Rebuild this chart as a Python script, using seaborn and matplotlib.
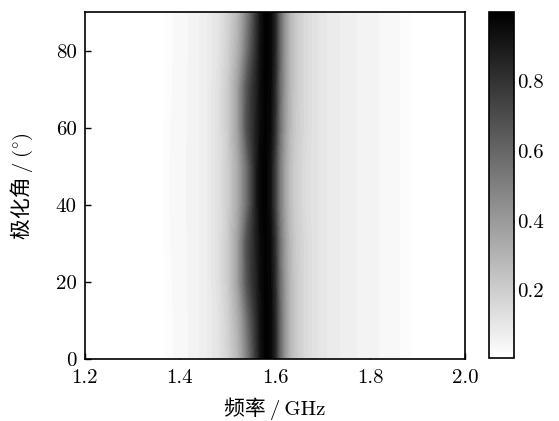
import numpy as np
import matplotlib
matplotlib.use("Agg")
import matplotlib.pyplot as plt
import seaborn as sns
from matplotlib.colors import Normalize
from matplotlib.cm import ScalarMappable

# ---- data ----
freq = [1.20, 1.36, 1.375, 1.40, 1.43, 1.46, 1.48, 1.50, 1.52, 1.53, 1.54, 1.55, 1.56,
        1.57, 1.58, 1.59, 1.60, 1.61, 1.62, 1.63, 1.64, 1.66, 1.68, 1.70, 1.73, 1.76,
        1.80, 1.84, 1.88, 1.895, 2.00]
angle = [0, 10, 20, 30, 40, 50, 60, 70, 80, 90]

a_0 = [0, 0, 0.02, 0.035, 0.05, 0.08, 0.11, 0.17, 0.27, 0.36, 0.48, 0.62, 0.78,
       0.93, 0.99, 0.98, 0.85, 0.60, 0.42, 0.30, 0.23, 0.16, 0.12, 0.10, 0.08, 0.065,
       0.05, 0.035, 0.02, 0, 0]
a_10 = [0, 0, 0.02, 0.035, 0.05, 0.08, 0.11, 0.18, 0.30, 0.40, 0.54, 0.68, 0.81,
        0.94, 0.99, 0.98, 0.85, 0.60, 0.42, 0.30, 0.23, 0.16, 0.12, 0.10, 0.08, 0.065,
        0.05, 0.035, 0.02, 0, 0]
a_20 = [0, 0, 0.022, 0.036, 0.05, 0.08, 0.12, 0.20, 0.36, 0.50, 0.66, 0.77, 0.86,
        0.95, 0.99, 0.97, 0.83, 0.58, 0.41, 0.30, 0.23, 0.16, 0.12, 0.10, 0.08, 0.065,
        0.05, 0.035, 0.02, 0, 0]
a_30 = [0, 0, 0.024, 0.037, 0.05, 0.08, 0.12, 0.20, 0.36, 0.50, 0.68, 0.78, 0.87,
        0.96, 0.99, 0.96, 0.81, 0.56, 0.40, 0.29, 0.22, 0.16, 0.12, 0.10, 0.08, 0.065,
        0.05, 0.035, 0.02, 0, 0]
a_40 = [0, 0, 0.025, 0.038, 0.05, 0.08, 0.12, 0.19, 0.32, 0.43, 0.56, 0.72, 0.88,
        0.98, 0.99, 0.93, 0.75, 0.52, 0.37, 0.27, 0.21, 0.15, 0.12, 0.10, 0.08, 0.065,
        0.05, 0.035, 0.02, 0, 0]
a_50 = [0, 0, 0.025, 0.038, 0.05, 0.08, 0.12, 0.19, 0.32, 0.43, 0.56, 0.72, 0.88,
        0.98, 0.99, 0.93, 0.75, 0.52, 0.37, 0.27, 0.21, 0.15, 0.12, 0.10, 0.08, 0.065,
        0.05, 0.035, 0.02, 0, 0]
a_60 = [0, 0, 0.024, 0.037, 0.05, 0.08, 0.12, 0.20, 0.36, 0.50, 0.68, 0.78, 0.87,
        0.96, 0.99, 0.96, 0.81, 0.56, 0.40, 0.29, 0.22, 0.16, 0.12, 0.10, 0.08, 0.065,
        0.05, 0.035, 0.02, 0, 0]
a_70 = [0, 0, 0.022, 0.036, 0.05, 0.08, 0.12, 0.20, 0.36, 0.50, 0.66, 0.77, 0.86,
        0.95, 0.99, 0.97, 0.83, 0.58, 0.41, 0.30, 0.23, 0.16, 0.12, 0.10, 0.08, 0.065,
        0.05, 0.035, 0.02, 0, 0]
a_80 = [0, 0, 0.02, 0.035, 0.05, 0.08, 0.11, 0.18, 0.30, 0.40, 0.54, 0.68, 0.81,
        0.94, 0.99, 0.98, 0.85, 0.60, 0.42, 0.30, 0.23, 0.16, 0.12, 0.10, 0.08, 0.065,
        0.05, 0.035, 0.02, 0, 0]
a_90 = [0, 0, 0.02, 0.035, 0.05, 0.08, 0.11, 0.17, 0.27, 0.36, 0.48, 0.62, 0.78,
        0.93, 0.99, 0.98, 0.85, 0.60, 0.42, 0.30, 0.23, 0.16, 0.12, 0.10, 0.08, 0.065,
        0.05, 0.035, 0.02, 0, 0]

absorb = np.array([a_0, a_10, a_20, a_30, a_40, a_50, a_60, a_70, a_80, a_90])

x_ticks = [1.2, 1.4, 1.6, 1.8, 2.0]
x_ticklabels = ["1.2", "1.4", "1.6", "1.8", "2.0"]
y_ticks = [0, 20, 40, 60, 80]
y_ticklabels = ["0", "20", "40", "60", "80"]
cb_ticks = [0.2, 0.4, 0.6, 0.8]
cb_ticklabels = ["0.2", "0.4", "0.6", "0.8"]
x_label = "频率\u2009/\u2009GHz"
y_label_main = "极化角\u2009/\u2009"
y_label_unit = "$(^{\\circ})$"

# ---- style ----
sns.set_theme(style="white")
plt.rcParams["font.family"] = ["cmr10", "Noto Sans CJK SC", "DejaVu Sans"]
plt.rcParams["mathtext.fontset"] = "cm"
plt.rcParams["axes.unicode_minus"] = False

fig = plt.figure(figsize=(5.59, 4.21), dpi=100)
ax = fig.add_axes([0.152, 0.147, 0.680, 0.8245])
cax = fig.add_axes([0.875, 0.150, 0.045, 0.8215])

cmap = plt.get_cmap("gray_r")
norm = Normalize(vmin=0.005, vmax=1.0)
levels = np.linspace(0.01, 1.0, 60)
F, A = np.meshgrid(freq, angle)
ax.contourf(F, A, absorb, levels=levels, cmap=cmap, norm=norm)

ax.set_xlim(1.2, 2.0)
ax.set_ylim(0, 90)
ax.set_xticks(x_ticks)
ax.set_xticklabels(x_ticklabels)
ax.set_yticks(y_ticks)
ax.set_yticklabels(y_ticklabels)
ax.tick_params(direction="in", length=4, width=1, labelsize=15, color="black",
               labelcolor="black", bottom=True, left=True, top=False, right=False)
ax.tick_params(axis="x", pad=7)
ax.tick_params(axis="y", pad=6)
for s in ax.spines.values():
    s.set_color("black")
    s.set_linewidth(1.2)

ax.set_xlabel(x_label, fontsize=15, color="black", labelpad=8)

cb = fig.colorbar(ScalarMappable(norm=norm, cmap=cmap), cax=cax)
cb.set_ticks(cb_ticks)
cb.set_ticklabels(cb_ticklabels)
cax.tick_params(direction="in", length=4, width=1, labelsize=15, color="black",
                labelcolor="black", right=True, left=False, pad=2)
cb.outline.set_linewidth(1.2)
cb.outline.set_edgecolor("black")

# y label composed of CJK text and a math unit, stacked vertically
fig.canvas.draw()
r = fig.canvas.get_renderer()
t1 = fig.text(0, 0, y_label_main, rotation=90, fontsize=15, color="black",
              ha="center", va="bottom")
t2 = fig.text(0, 0, y_label_unit, rotation=90, fontsize=15, color="black",
              ha="center", va="bottom")
h1 = t1.get_window_extent(r).height
h2 = t2.get_window_extent(r).height
W, H = fig.bbox.width, fig.bbox.height
xc = 22.0
ymid = 0.147 * H + 0.8245 * H / 2
y0 = ymid - (h1 + h2) / 2
t1.set_position((xc / W, y0 / H))
t2.set_position(((xc + 0.5) / W, (y0 + h1) / H))

fig.savefig("out.png", dpi=100)
